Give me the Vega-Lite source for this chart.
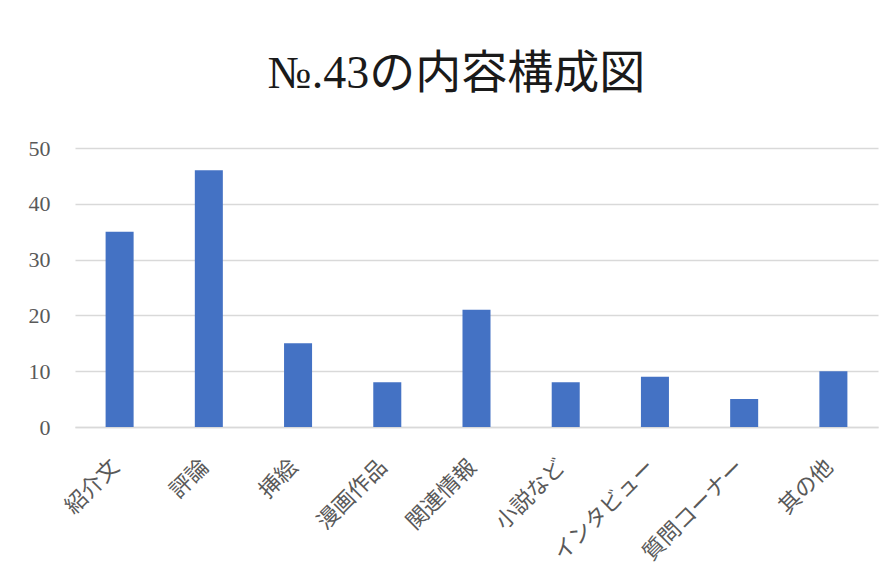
{
  "$schema": "https://vega.github.io/schema/vega-lite/v6.json",
  "autosize": {"type": "none"},
  "width": 803,
  "height": 279,
  "padding": {"left": 75, "top": 148, "right": 16, "bottom": 157},
  "background": "white",
  "title": {
    "text": "№.43の内容構成図",
    "font": "Liberation Serif, Noto Sans CJK JP",
    "fontSize": 46,
    "fontWeight": "normal",
    "color": "#1a1a1a",
    "anchor": "middle",
    "baseline": "bottom",
    "offset": -7,
    "dx": -20
  },
  "data": {
    "values": [
      {"category": "紹介文", "value": 35},
      {"category": "評論", "value": 46},
      {"category": "挿絵", "value": 15},
      {"category": "漫画作品", "value": 8},
      {"category": "関連情報", "value": 21},
      {"category": "小説など", "value": 8},
      {"category": "インタビュー", "value": 9},
      {"category": "質問コーナー", "value": 5},
      {"category": "其の他", "value": 10}
    ]
  },
  "mark": {"type": "bar", "color": "#4472C4"},
  "encoding": {
    "x": {
      "field": "category",
      "type": "nominal",
      "sort": null,
      "title": null,
      "scale": {"paddingInner": 0.686, "paddingOuter": 0.343},
      "axis": {
        "labelAngle": -45,
        "labelAlign": "right",
        "labelBaseline": "middle",
        "labelPadding": 36,
        "labelOffset": -4,
        "labelFont": "Liberation Serif, Noto Sans CJK JP",
        "labelFontSize": 22,
        "labelColor": "#595959",
        "ticks": false,
        "domainColor": "#d9d9d9",
        "domainWidth": 1.5,
        "grid": false
      }
    },
    "y": {
      "field": "value",
      "type": "quantitative",
      "title": null,
      "scale": {"domain": [0, 50]},
      "axis": {
        "values": [0, 10, 20, 30, 40, 50],
        "labelFont": "Liberation Serif",
        "labelFontSize": 22,
        "labelColor": "#595959",
        "labelPadding": 25,
        "ticks": false,
        "domain": false,
        "gridColor": "#d9d9d9",
        "gridWidth": 1.5
      }
    }
  },
  "config": {"view": {"stroke": null}}
}
